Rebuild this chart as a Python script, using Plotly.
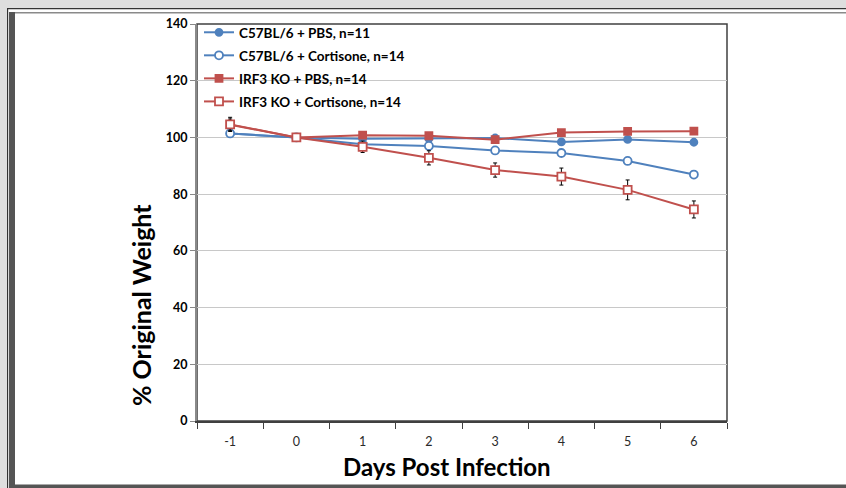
import plotly.graph_objects as go

days = ["-1", "0", "1", "2", "3", "4", "5", "6"]

b6_pbs = [101.4, 100.0, 99.5, 99.6, 99.8, 98.4, 99.3, 98.3]
b6_pbs_err = [0.8, 0.0, 0.5, 0.6, 0.8, 0.6, 0.6, 0.8]

b6_cort = [101.4, 100.0, 97.6, 97.0, 95.4, 94.5, 91.7, 86.9]
b6_cort_err = [0.8, 0.0, 0.6, 0.7, 0.8, 0.8, 0.9, 1.4]

irf_pbs = [104.5, 100.0, 100.8, 100.6, 99.2, 101.7, 102.1, 102.2]
irf_pbs_err = [2.0, 0.0, 0.6, 0.6, 0.8, 0.6, 0.6, 0.6]

irf_cort = [104.6, 100.0, 96.7, 92.8, 88.5, 86.2, 81.5, 74.6]
irf_cort_err = [2.5, 0.0, 2.0, 2.5, 2.5, 3.0, 3.5, 3.0]

names = ["C57BL/6 + PBS, n=11", "C57BL/6 + Cortisone, n=14",
         "IRF3 KO + PBS, n=14", "IRF3 KO + Cortisone, n=14"]

BLUE = "#4F81BD"
RED = "#C0504D"
FONT = "Lato"

W, H = 846, 488
L, R, T, B = 197, 727, 24, 421


def xp(px):
    return (px - L) / (R - L)


def yp(py):
    return (B - py) / (B - T)


fig = go.Figure()

series = [
    (b6_pbs, b6_pbs_err, names[0], BLUE, "circle", BLUE, 7),
    (b6_cort, b6_cort_err, names[1], BLUE, "circle", "white", 8),
    (irf_pbs, irf_pbs_err, names[2], RED, "square", RED, 7),
    (irf_cort, irf_cort_err, names[3], RED, "square", "white", 8),
]

for i, (vals, err, nm, col, sym, fill, sz) in enumerate(series):
    fig.add_trace(go.Scatter(
        x=days, y=vals, name=nm, mode="lines+markers",
        legendgroup=f"g{i}",
        line=dict(color=col, width=2),
        marker=dict(symbol=sym, color=fill, size=sz,
                    line=dict(color=col, width=1.8)),
        error_y=dict(type="data", array=err, visible=True,
                     color="black", thickness=1, width=2),
    ))

shapes = []


def rect(x0, y0, x1, y1, color):
    shapes.append(dict(type="rect", xref="paper", yref="paper",
                       x0=xp(x0), x1=xp(x1), y0=yp(y0), y1=yp(y1),
                       fillcolor=color, line=dict(width=0), layer="above"))


# outer window frame
rect(0, 0, W, 8, "#dedede")
rect(0, 0, 7, H, "#dedede")
rect(7, 8, W, 9.3, "#333333")
rect(7, 8, 8.2, H, "#333333")
rect(9, 12, W, 13.5, "#8a8a8a")
rect(9, 12, 15, H, "#555555")
rect(9, 484.5, W, H, "#555555")

# plot area border
shapes.append(dict(type="rect", xref="paper", yref="paper", x0=0, x1=1, y0=0, y1=1,
                   line=dict(color="#404040", width=1.5), layer="below"))

fig.update_layout(
    width=W, height=H,
    margin=dict(l=L, r=W - R, t=T, b=H - B),
    paper_bgcolor="white", plot_bgcolor="white",
    font=dict(family=FONT, color="black"),
    shapes=shapes,
    showlegend=True,
    legend=dict(x=xp(199), y=yp(17), xanchor="left", yanchor="top",
                bgcolor="rgba(0,0,0,0)", font=dict(size=13.5, family=FONT, weight="bold"),
                tracegroupgap=2.5, itemwidth=30),
    xaxis=dict(type="category", categoryorder="array", categoryarray=days,
               tickson="boundaries", ticks="outside", ticklen=6, tickcolor="#404040",
               showline=True, linecolor="#404040", linewidth=1.5,
               showgrid=False, tickfont=dict(size=12.5, family=FONT, color="#2a2a2a"),
               ticklabelstandoff=8,
               range=[-0.5, 7.5]),
    yaxis=dict(range=[0, 140], tickvals=[0, 20, 40, 60, 80, 100, 120, 140],
               ticks="outside", ticklen=5, tickcolor="#888",
               showline=True, linecolor="#8a8a8a", linewidth=2,
               showgrid=True, gridcolor="#c8c8c8", gridwidth=1,
               zeroline=False,
               tickfont=dict(size=12.5, family=FONT, weight="bold")),
    annotations=[
        dict(text="% Original Weight", xref="paper", yref="paper",
             x=xp(141), y=yp(305), xanchor="center", yanchor="middle",
             textangle=-90, showarrow=False,
             font=dict(size=25, family=FONT, weight="bold")),
        dict(text="Days Post Infection", xref="paper", yref="paper",
             x=xp(447), y=yp(466), xanchor="center", yanchor="middle",
             showarrow=False,
             font=dict(size=24, family=FONT, weight="bold")),
    ],
)

fig.write_html("out.html", config={"displayModeBar": False},
               post_script="document.body.style.margin='0';document.body.style.padding='0';")
